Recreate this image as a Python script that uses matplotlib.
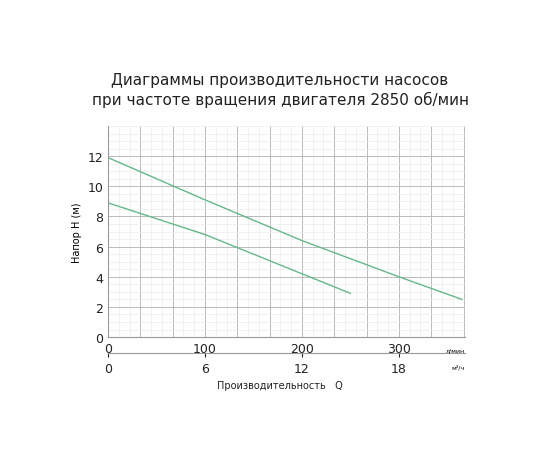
import matplotlib
matplotlib.use("Agg")
import matplotlib.pyplot as plt
import numpy as np
from matplotlib.ticker import MultipleLocator

q1 = [0, 100, 200, 300, 365]
h1 = [11.9, 9.1, 6.4, 4.0, 2.5]
q2 = [0, 100, 200, 250]
h2 = [8.9, 6.8, 4.2, 2.9]
xticks = [0, 100, 200, 300]
m3ticks = [0, 6, 12, 18]

fig = plt.figure(figsize=(5.6, 4.6), dpi=100)
fig.text(0.5, 0.803, "Диаграммы производительности насосов\nпри частоте вращения двигателя 2850 об/мин",
         ha="center", va="center", fontsize=11, color="#222", linespacing=1.25)
ax = fig.add_axes([0.193, 0.265, 0.637, 0.459])
ax.set_xlim(0, 368)
ax.set_ylim(0, 14)
ax.xaxis.set_minor_locator(MultipleLocator(100/9))
ax.yaxis.set_minor_locator(MultipleLocator(0.5))
ax.grid(which="major", color="#bbbbbb", lw=0.7)
ax.grid(which="minor", color="#ebebeb", lw=0.5)
xt = np.arange(0, 368, 100/3)
ax.set_xticks(xt)
ax.set_xticklabels([str(int(round(v))) if int(round(v)) in xticks else "" for v in xt])
ax.tick_params(which="both", length=0, labelsize=9, colors="#222")
ax.set_yticks([0, 2, 4, 6, 8, 10, 12])
ax.set_ylabel("Напор H (м)", fontsize=7)
for s in ["top", "right"]:
    ax.spines[s].set_visible(False)
for s in ["left", "bottom"]:
    ax.spines[s].set_color("#999")
ax.plot(q1, h1, color="#66b889", lw=1)
ax.plot(q2, h2, color="#66b889", lw=1)
fig.text(0.83, 0.237, "л/мин", fontsize=4.5, ha="right", va="center")
fig.text(0.83, 0.20, "м³/ч", fontsize=4.5, ha="right", va="center")

ax2 = fig.add_axes([0.193, 0.23, 0.637, 0.001])
ax2.set_xlim(0, 368 * 0.06)
ax2.set_yticks([])
for s in ["top", "right", "left"]:
    ax2.spines[s].set_visible(False)
ax2.spines["bottom"].set_color("#999")
ax2.set_xticks(m3ticks)
ax2.tick_params(length=3, labelsize=9, colors="#222")
fig.text(0.5, 0.155, "Производительность   Q", ha="center", fontsize=7, color="#222")
fig.savefig("out.png", dpi=100, facecolor="white")
